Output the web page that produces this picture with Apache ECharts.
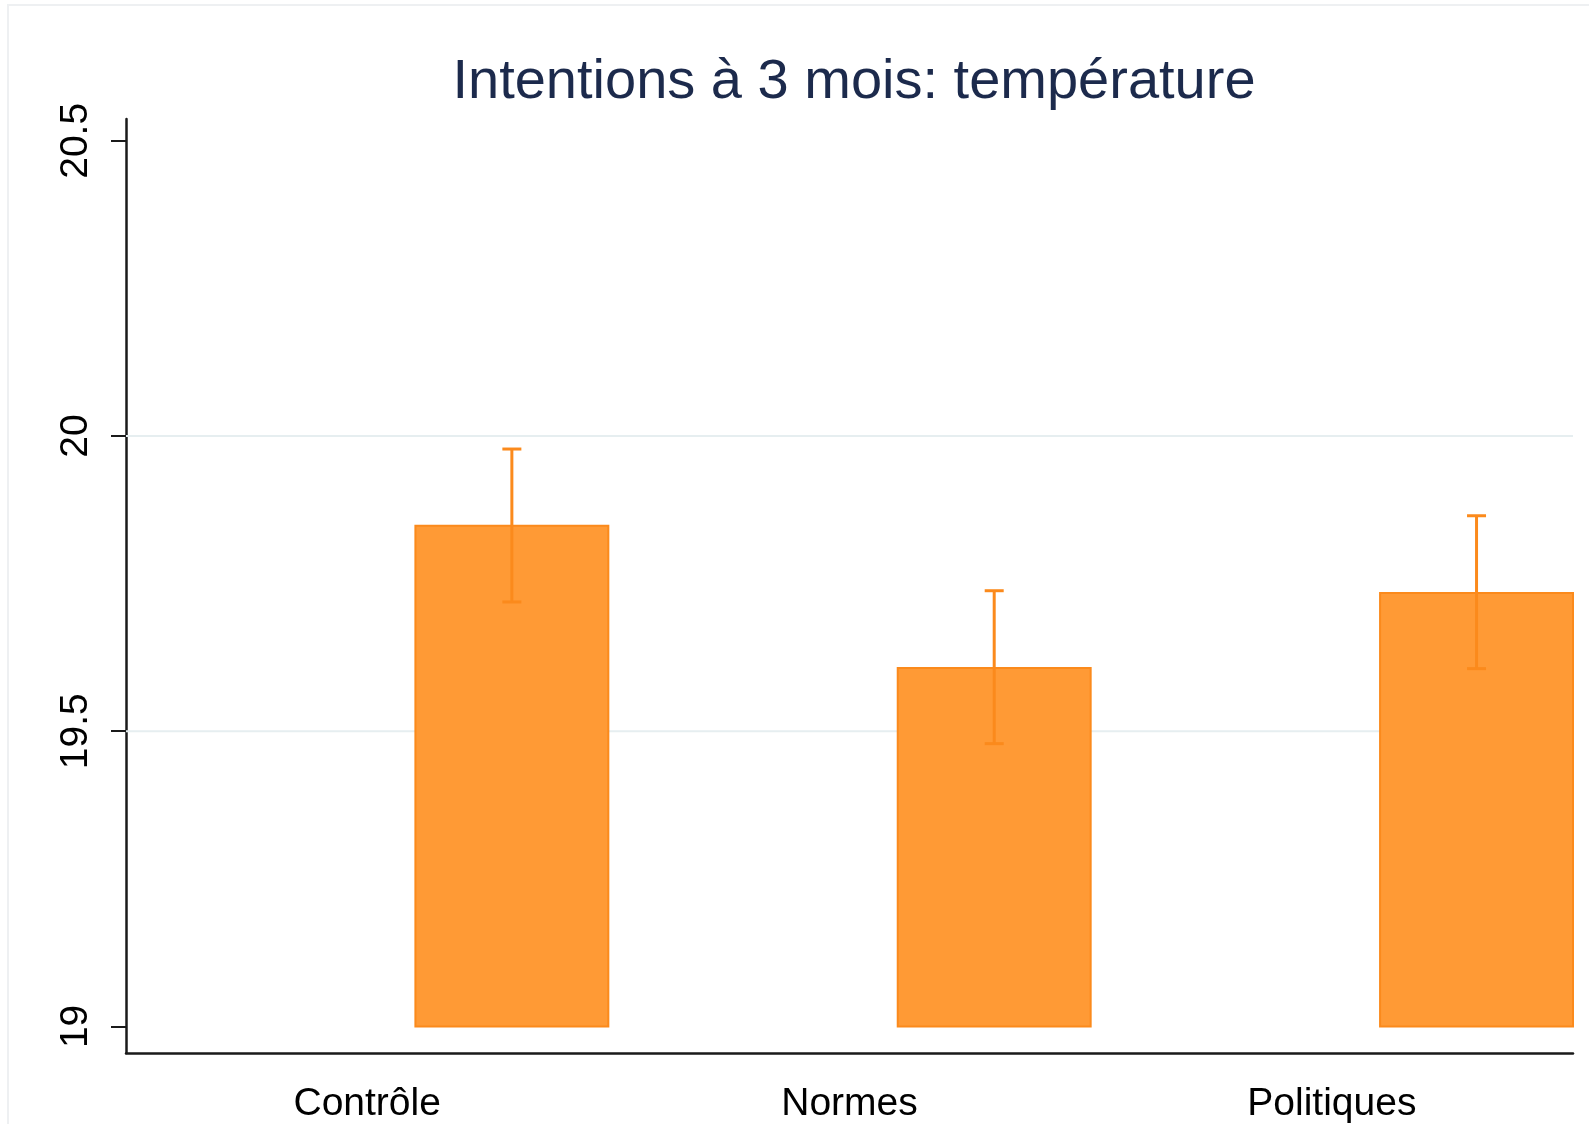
<!DOCTYPE html>
<html>
<head>
<meta charset="utf-8">
<script src="https://cdn.jsdelivr.net/npm/echarts@6/dist/echarts.min.js"></script>
<style>
  html, body { margin: 0; padding: 0; background: #fff; }
  #chart { width: 1589px; height: 1124px; }
</style>
</head>
<body>
<div id="chart"></div>
<script>
const categories = ['Contrôle', 'Normes', 'Politiques']
const means = [19.848, 19.607, 19.734]
const ciLow = [19.719, 19.479, 19.606]
const ciHigh = [19.978, 19.738, 19.865]
const yTicks = [19, 19.5, 20, 20.5]
const gridValues = [19.5, 20]
const baseValue = 19

const chart = echarts.init(document.getElementById('chart'))
const font = '"Liberation Sans", Arial, sans-serif'
const orange = '#ff9a35'
const orangeDark = '#fb8a1c'

const barData = categories.map((c, i) => [i, means[i], ciLow[i], ciHigh[i]])

function renderGrid(params, api) {
  const cs = params.coordSys
  const y = api.coord([0, api.value(0)])[1]
  return {
    type: 'line',
    shape: { x1: cs.x, y1: y, x2: cs.x + cs.width, y2: y },
    style: { stroke: '#e6eef0', lineWidth: 2 }
  }
}

function renderBar(params, api) {
  const idx = api.value(0)
  const band = api.size([1, 0])[0]
  const center = api.coord([idx, baseValue])[0]
  const left = center + band * 0.1
  const width = band * 0.4
  const yBase = api.coord([idx, baseValue])[1]
  const yTop = api.coord([idx, api.value(1)])[1]
  return {
    type: 'rect',
    shape: { x: left, y: yTop, width: width, height: yBase - yTop },
    style: { fill: orange, stroke: orangeDark, lineWidth: 2 }
  }
}

function renderError(params, api) {
  const idx = api.value(0)
  const band = api.size([1, 0])[0]
  const cx = api.coord([idx, baseValue])[0] + band * 0.3
  const lo = api.coord([idx, api.value(2)])[1]
  const hi = api.coord([idx, api.value(3)])[1]
  const cap = 9.5
  const style = { stroke: orangeDark, lineWidth: 3 }
  return {
    type: 'group',
    children: [
      { type: 'line', shape: { x1: cx, y1: lo, x2: cx, y2: hi }, style },
      { type: 'line', shape: { x1: cx - cap, y1: lo, x2: cx + cap, y2: lo }, style },
      { type: 'line', shape: { x1: cx - cap, y1: hi, x2: cx + cap, y2: hi }, style }
    ]
  }
}

chart.setOption({
  animation: false,
  backgroundColor: '#fff',
  graphic: [{
    type: 'rect',
    shape: { x: 8, y: 5, width: 1600, height: 1200 },
    style: { fill: 'none', stroke: '#eef0f2', lineWidth: 2 },
    silent: true
  }],
  title: {
    text: 'Intentions à 3 mois: température',
    left: 849,
    textAlign: 'center',
    top: 50,
    textStyle: { fontFamily: font, fontSize: 56, fontWeight: 'normal', color: '#1c2a4c' }
  },
  grid: { left: 126, right: 16, top: 119, bottom: 70 },
  xAxis: {
    type: 'category',
    data: categories,
    boundaryGap: true,
    axisLine: { lineStyle: { color: '#1a1a1a', width: 2.5 } },
    axisTick: { alignWithLabel: true, length: 15, lineStyle: { color: '#1a1a1a', width: 2 } },
    axisLabel: { fontFamily: font, fontSize: 39, color: '#000', margin: 32 },
    splitLine: { show: false }
  },
  yAxis: {
    type: 'value',
    min: 18.955,
    max: 20.537,
    axisLine: { show: true, lineStyle: { color: '#1a1a1a', width: 2.5 } },
    axisTick: { show: true, length: 15, customValues: yTicks, lineStyle: { color: '#1a1a1a', width: 2 } },
    axisLabel: {
      customValues: yTicks,
      rotate: 90,
      fontFamily: font,
      fontSize: 39,
      color: '#000',
      margin: 30,
      formatter: v => String(v)
    },
    splitLine: { show: false }
  },
  series: [
    { type: 'custom', renderItem: renderGrid, data: gridValues.map(v => [v]), encode: { y: 0 }, z: 1, silent: true },
    { type: 'custom', renderItem: renderBar, data: barData, z: 2 },
    { type: 'custom', renderItem: renderError, data: barData, z: 3 }
  ]
})
</script>
</body>
</html>
